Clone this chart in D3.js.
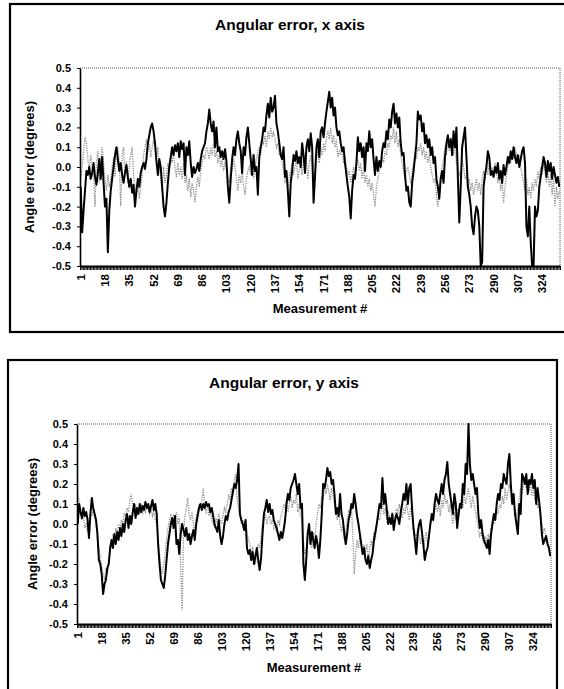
<!DOCTYPE html>
<html>
<head>
<meta charset="utf-8">
<script src="https://cdn.jsdelivr.net/npm/d3@7"></script>
<style>
  body { margin: 0; background: #fff; }
  svg { display: block; font-family: Arial, "Liberation Sans", sans-serif; }
</style>
</head>
<body>
<svg id="chart" width="564" height="689"></svg>
<script>

// x axis, dark series
var X_DARK = [
	-0.10,-0.33,-0.22,-0.12,-0.02,-0.04,0.00,-0.06,-0.03,0.02,-0.05,-0.09,-0.03,0.04,-0.06,0.05,-0.08,
	-0.20,-0.16,-0.43,-0.22,-0.12,-0.06,0.00,0.06,0.10,0.04,-0.02,0.02,-0.04,-0.08,-0.03,0.01,-0.05,
	-0.10,-0.06,-0.13,-0.09,-0.20,-0.12,-0.06,-0.10,-0.03,0.00,0.02,-0.01,0.04,0.12,0.16,0.20,0.22,
	0.18,0.12,0.03,-0.04,0.04,0.00,-0.10,-0.20,-0.25,-0.18,-0.08,0.00,0.05,0.10,0.06,0.11,0.08,
	0.12,0.05,0.13,0.09,0.12,-0.04,0.10,0.06,0.13,0.02,-0.05,0.00,-0.03,-0.01,0.02,-0.02,0.04,
	0.08,0.10,0.12,0.18,0.22,0.29,0.22,0.18,0.23,0.10,0.20,0.08,0.10,0.05,0.08,0.04,0.09,
	0.03,-0.10,-0.18,-0.06,0.04,0.10,0.06,0.14,0.18,0.12,0.08,-0.03,0.10,0.06,0.15,0.20,0.12,
	0.04,-0.04,0.06,-0.02,0.00,-0.14,0.05,0.10,0.14,0.20,0.18,0.26,0.32,0.25,0.35,0.28,0.30,
	0.36,0.22,0.18,0.12,0.06,0.04,0.10,-0.05,-0.02,-0.12,-0.25,-0.08,-0.02,0.06,0.03,0.08,0.02,
	0.05,0.00,0.12,0.06,-0.03,0.10,0.14,0.08,0.17,0.10,-0.18,-0.05,0.10,0.14,0.05,0.18,0.20,
	0.15,0.22,0.28,0.33,0.38,0.30,0.35,0.26,0.30,0.20,0.16,0.18,0.12,0.08,0.10,0.02,-0.04,
	-0.10,-0.15,-0.26,-0.12,-0.04,-0.06,0.02,0.15,0.08,0.12,0.05,0.10,-0.02,0.12,0.08,0.18,0.10,
	0.14,0.04,-0.04,0.05,-0.02,0.03,0.00,0.08,0.12,0.10,0.18,0.14,0.24,0.20,0.28,0.32,0.22,
	0.27,0.20,0.25,0.12,0.06,0.07,-0.04,-0.12,-0.10,-0.18,-0.20,-0.08,-0.02,0.05,0.12,0.28,0.24,
	0.26,0.18,0.22,0.12,0.16,0.10,0.14,0.06,0.10,0.02,0.05,-0.06,-0.10,-0.16,-0.06,-0.02,-0.08,
	0.05,0.12,0.16,0.10,0.14,0.06,0.18,0.10,0.20,-0.05,-0.28,-0.10,0.10,0.15,0.20,0.05,-0.10,
	-0.14,-0.20,-0.30,-0.34,-0.25,-0.20,-0.22,-0.30,-0.50,-0.48,-0.10,-0.04,0.00,0.08,0.05,-0.04,-0.02,
	-0.05,0.00,-0.03,0.02,-0.06,-0.02,-0.08,0.01,-0.04,0.00,0.05,0.02,0.08,0.04,0.10,0.05,0.02,
	0.06,0.00,0.04,0.08,0.10,0.02,-0.30,-0.35,-0.20,-0.38,-0.50,-0.50,-0.20,-0.25,-0.22,-0.10,-0.05,
	0.00,0.05,0.02,-0.05,0.03,-0.02,0.02,-0.06,0.00,-0.04,-0.08,-0.05,-0.10
];

// x axis, gray series
var X_GRAY = [
	-0.05,0.00,0.08,0.15,0.12,0.04,-0.02,0.06,0.00,-0.04,-0.20,0.02,0.08,-0.08,0.04,0.10,0.02,
	-0.06,-0.12,-0.04,-0.10,-0.06,0.00,0.05,-0.05,0.08,0.10,0.02,-0.20,0.06,0.10,-0.04,0.03,-0.08,
	0.00,0.06,0.10,-0.04,-0.10,-0.15,-0.08,-0.16,-0.10,-0.04,0.06,0.10,0.14,0.08,0.12,0.05,0.10,
	0.14,0.10,0.04,0.10,0.00,-0.06,-0.12,0.00,-0.08,-0.04,0.02,-0.02,0.05,0.02,0.08,0.00,-0.05,
	0.02,-0.04,0.00,-0.06,0.02,-0.08,-0.04,-0.12,-0.06,-0.15,-0.08,-0.12,-0.18,-0.10,-0.05,-0.10,-0.02,
	0.02,0.06,0.04,0.10,0.08,0.04,0.10,0.06,0.12,0.05,0.08,0.02,0.06,0.00,0.04,-0.02,0.02,
	0.00,-0.05,-0.08,0.00,-0.02,0.04,0.00,-0.06,-0.12,-0.04,-0.08,-0.02,-0.10,-0.14,-0.06,-0.02,0.00,
	-0.04,0.02,-0.06,0.00,0.04,0.08,0.10,0.06,0.14,0.12,0.16,0.10,0.18,0.14,0.20,0.15,0.18,
	0.14,0.10,0.12,0.06,0.08,0.02,-0.02,-0.08,-0.04,-0.10,-0.05,-0.02,0.02,-0.04,0.00,0.04,-0.06,
	-0.02,0.02,-0.04,0.05,0.00,0.03,-0.06,0.02,0.06,0.00,-0.10,-0.04,0.04,0.08,0.02,0.10,0.06,
	0.12,0.08,0.15,0.18,0.14,0.20,0.12,0.16,0.10,0.14,0.05,0.08,0.06,0.10,0.02,0.05,0.00,
	-0.04,-0.02,-0.08,-0.04,0.00,-0.06,0.02,0.04,-0.02,0.02,-0.06,0.00,-0.08,-0.04,-0.10,-0.06,-0.12,
	-0.08,-0.14,-0.20,-0.10,-0.06,-0.02,0.00,0.04,0.02,0.08,0.06,0.12,0.10,0.16,0.14,0.20,0.12,
	0.18,0.10,0.14,0.06,0.02,-0.02,-0.06,-0.02,0.00,-0.04,-0.08,-0.02,0.02,0.06,0.04,0.10,0.08,
	0.12,0.06,0.10,0.04,0.08,0.02,0.06,0.00,-0.04,-0.08,-0.06,-0.14,-0.20,-0.10,-0.04,0.00,0.04,
	0.10,0.06,0.12,0.08,0.15,0.10,0.06,0.12,0.02,0.00,-0.04,-0.02,0.04,0.00,-0.06,-0.04,-0.10,
	-0.06,-0.12,-0.08,-0.14,-0.10,-0.06,-0.12,-0.08,-0.14,-0.06,-0.02,-0.06,0.00,-0.04,0.02,-0.02,0.00,
	-0.04,0.02,-0.02,-0.08,-0.04,-0.12,-0.06,-0.18,-0.10,-0.04,0.00,0.04,0.02,0.08,0.04,0.10,0.06,
	0.02,0.06,0.00,-0.04,-0.08,-0.12,-0.06,-0.14,-0.10,-0.16,-0.08,-0.12,-0.06,-0.10,-0.02,-0.06,0.00,
	-0.04,0.02,-0.02,-0.08,-0.02,-0.10,-0.04,-0.14,-0.06,-0.20,-0.10,-0.16,-0.12
];

// y axis, dark series
var Y_DARK = [
	0.00,0.10,0.06,0.03,0.08,0.04,0.06,0.02,-0.07,0.05,0.13,0.08,0.05,0.02,-0.05,-0.18,-0.20,
	-0.25,-0.35,-0.30,-0.28,-0.22,-0.20,-0.12,-0.08,-0.12,-0.05,-0.10,-0.04,-0.08,-0.02,-0.06,0.00,-0.04,
	0.02,0.05,-0.02,0.04,0.00,0.06,0.10,0.03,0.08,0.05,0.10,0.06,0.09,0.07,0.11,0.08,0.10,
	0.06,0.09,0.12,0.07,0.10,0.05,-0.10,-0.20,-0.28,-0.30,-0.32,-0.26,-0.18,-0.10,-0.05,0.00,0.03,
	-0.02,0.04,-0.10,-0.08,-0.15,-0.05,0.00,-0.03,-0.06,-0.02,-0.08,-0.05,-0.10,-0.06,-0.03,-0.08,0.00,
	0.04,0.08,0.10,0.07,0.10,0.08,0.11,0.09,0.10,0.06,0.08,0.04,0.00,-0.02,-0.04,0.02,-0.06,
	-0.10,-0.06,0.00,0.04,0.02,0.06,0.08,0.12,0.16,0.20,0.18,0.22,0.30,0.05,0.02,0.00,-0.03,
	0.02,-0.12,-0.15,-0.13,-0.18,-0.14,-0.20,-0.16,-0.12,-0.18,-0.23,-0.17,-0.05,0.05,0.08,0.12,0.06,
	0.10,0.05,0.07,0.02,0.00,-0.02,-0.05,-0.08,-0.04,-0.07,-0.03,0.02,0.10,0.15,0.12,0.18,0.20,
	0.22,0.25,0.20,0.15,0.20,0.08,0.10,-0.20,-0.28,-0.18,-0.05,0.00,-0.10,-0.04,-0.08,-0.12,-0.06,
	-0.10,-0.17,-0.08,0.05,0.20,0.18,0.22,0.28,0.24,0.26,0.20,0.22,0.15,0.05,0.08,0.04,0.15,
	0.05,0.02,-0.05,-0.10,-0.05,0.02,0.05,0.10,0.08,0.15,0.10,0.04,0.00,-0.05,-0.10,-0.15,-0.12,
	-0.18,-0.20,-0.16,-0.22,-0.18,-0.15,-0.08,-0.04,0.00,0.05,0.10,0.08,0.23,0.10,0.15,0.08,0.00,
	0.03,0.00,0.05,-0.03,0.02,0.05,0.03,0.00,0.06,0.10,0.15,0.12,0.20,0.10,0.18,0.20,0.08,
	-0.02,-0.08,-0.15,-0.05,0.00,0.02,-0.04,-0.10,-0.18,-0.14,-0.12,-0.06,0.00,0.05,0.02,0.10,0.15,
	0.12,0.10,0.15,0.20,0.15,0.22,0.25,0.31,0.20,0.15,0.10,0.05,0.15,0.10,-0.02,0.05,0.10,
	0.08,0.20,0.15,0.30,0.25,0.50,0.30,0.22,0.25,0.20,0.15,0.18,0.05,-0.02,0.02,-0.05,-0.08,
	-0.10,-0.12,-0.08,-0.15,-0.05,0.00,0.05,0.02,0.10,0.15,0.12,0.20,0.18,0.25,0.22,0.20,0.30,
	0.35,0.20,0.10,0.15,0.05,0.00,-0.05,0.10,0.05,0.25,0.23,0.20,0.25,0.15,0.22,0.20,0.25,
	0.18,0.22,0.10,0.18,0.12,0.05,-0.05,-0.10,-0.08,-0.06,-0.10,-0.12,-0.16
];

// y axis, gray series
var Y_GRAY = [
	0.15,0.12,0.08,0.02,0.05,-0.02,0.00,-0.04,0.02,0.06,0.04,0.08,0.03,0.00,-0.08,-0.12,-0.16,
	-0.22,-0.25,-0.28,-0.22,-0.25,-0.18,-0.14,-0.10,-0.06,-0.08,-0.02,-0.05,0.00,-0.03,0.02,0.00,0.05,
	0.04,0.08,0.06,0.12,0.15,0.10,0.06,0.10,0.04,0.08,0.06,0.10,0.05,0.08,0.06,0.09,0.07,
	0.05,0.08,0.04,0.06,0.02,0.00,-0.08,-0.15,-0.22,-0.25,-0.20,-0.15,-0.08,-0.02,0.02,0.05,0.00,
	0.04,0.02,0.06,0.00,0.03,-0.22,-0.43,-0.05,0.04,0.08,0.13,0.05,0.02,0.06,0.00,-0.04,0.04,
	0.06,0.10,0.08,0.12,0.18,0.08,0.06,0.10,0.04,0.06,0.02,0.00,-0.02,0.03,0.00,0.05,0.02,
	0.00,0.04,0.08,0.06,0.10,0.14,0.12,0.18,0.15,0.22,0.25,0.12,0.08,0.04,0.00,0.02,-0.02,
	0.00,-0.04,-0.08,-0.10,-0.14,-0.12,-0.16,-0.20,-0.15,-0.10,-0.12,-0.06,0.00,0.02,0.05,0.00,0.03,
	0.04,0.00,0.02,-0.02,0.00,-0.04,0.02,0.00,0.04,0.06,0.10,0.08,0.12,0.06,0.10,0.14,0.08,
	0.12,0.10,0.15,0.06,0.10,0.04,0.02,-0.08,-0.15,-0.12,-0.05,0.00,-0.06,-0.12,-0.04,-0.08,0.00,
	0.05,0.10,0.08,0.14,0.12,0.18,0.15,0.20,0.16,0.12,0.18,0.14,0.10,0.06,0.02,0.06,0.00,
	-0.04,0.00,-0.08,-0.04,0.02,0.06,0.04,0.08,-0.05,-0.25,-0.15,-0.08,-0.12,-0.06,-0.10,-0.15,-0.10,
	-0.14,-0.10,-0.18,-0.12,-0.08,-0.12,-0.04,-0.08,0.00,0.04,0.02,0.06,0.10,0.05,0.08,0.02,0.06,
	0.04,0.00,0.06,0.02,0.04,0.08,0.05,0.10,0.06,0.03,0.08,0.05,0.10,0.06,0.02,0.08,0.04,
	0.00,-0.04,-0.08,-0.02,-0.06,-0.10,-0.05,-0.12,-0.08,-0.04,-0.10,-0.06,0.00,0.04,0.02,0.06,0.10,
	0.06,0.10,0.04,0.12,0.08,0.15,0.10,0.12,0.06,0.10,0.04,0.00,0.06,0.02,0.08,0.04,0.10,
	0.12,0.08,0.15,0.10,0.14,0.18,0.12,0.08,0.14,0.10,0.06,0.02,-0.02,-0.06,-0.04,-0.08,-0.10,
	-0.06,-0.10,-0.05,-0.08,-0.02,0.02,0.00,0.04,0.08,0.05,0.10,0.08,0.14,0.10,0.18,0.12,0.16,
	0.20,0.15,0.10,0.12,0.06,0.04,0.08,0.12,0.18,0.15,0.20,0.24,0.18,0.22,0.16,0.20,0.14,
	0.18,0.12,0.15,0.08,0.10,0.04,0.00,-0.04,-0.02,-0.06,-0.08,-0.12,-0.10
];

var Y_TICKS = [0.5, 0.4, 0.3, 0.2, 0.1, 0.0, -0.1, -0.2, -0.3, -0.4, -0.5];
var X_LABELS = [1, 18, 35, 52, 69, 86, 103, 120, 137, 154, 171, 188, 205, 222, 239, 256, 273, 290, 307, 324];

var svg = d3.select("#chart");

function drawChart(opts) {
	var g = svg.append("g");
	var p = opts.plot;
	var n = opts.dark.length;

	// outer frame of the chart object
	g.append("rect")
		.attr("x", opts.box[0])
		.attr("y", opts.box[1])
		.attr("width", opts.box[2] - opts.box[0])
		.attr("height", opts.box[3] - opts.box[1])
		.attr("fill", "none")
		.attr("stroke", "#000")
		.attr("stroke-width", 2.2);

	g.append("text")
		.attr("x", opts.titlePos[0])
		.attr("y", opts.titlePos[1])
		.attr("text-anchor", "middle")
		.attr("font-size", "15.5px")
		.attr("font-weight", "bold")
		.text(opts.title);

	var x = d3.scaleLinear().domain([0.5, n + 0.5]).range([p.left, p.right]);
	var y = d3.scaleLinear().domain([-0.5, 0.5]).range([p.bottom, p.top]);

	// dotted plot area border (top and right)
	g.append("path")
		.attr("d", "M" + p.left + "," + p.top + "H" + p.right + "V" + p.bottom)
		.attr("fill", "none")
		.attr("stroke", "#555")
		.attr("stroke-dasharray", "1,1");

	var clipId = "clip" + opts.id;
	g.append("clipPath").attr("id", clipId)
		.append("rect")
		.attr("x", p.left).attr("y", p.top - 1)
		.attr("width", p.right - p.left).attr("height", p.bottom - p.top + 2);

	var line = d3.line()
		.x(function(d, i) { return x(i + 1); })
		.y(function(d) { return y(d); });

	g.append("path")
		.datum(opts.gray)
		.attr("clip-path", "url(#" + clipId + ")")
		.attr("d", line)
		.attr("fill", "none")
		.attr("stroke", "#8c8c8c")
		.attr("stroke-width", 1.3)
		.attr("stroke-dasharray", "1.2,1.2");

	g.append("path")
		.datum(opts.dark)
		.attr("clip-path", "url(#" + clipId + ")")
		.attr("d", line)
		.attr("fill", "none")
		.attr("stroke", "#000")
		.attr("stroke-width", 2)
		.attr("stroke-linejoin", "round");

	// value axis
	var yAxis = d3.axisLeft(y)
		.tickValues(Y_TICKS)
		.tickSize(3)
		.tickSizeOuter(0)
		.tickPadding(6)
		.tickFormat(function(d) { return d.toFixed(1); });

	var ya = g.append("g")
		.attr("transform", "translate(" + p.left + ",0)")
		.call(yAxis);
	ya.select(".domain").attr("stroke-width", 1.6);
	ya.selectAll("text")
		.attr("font-size", "11px")
		.attr("font-weight", "bold")
		.attr("font-family", "Arial, 'Liberation Sans', sans-serif")
		.attr("fill", "#000");

	// category axis: one tick between every measurement
	var xAxis = d3.axisBottom(x)
		.tickValues(d3.range(0.5, n + 1, 1))
		.tickSize(4)
		.tickSizeOuter(0)
		.tickFormat("");

	var xa = g.append("g")
		.attr("transform", "translate(0," + p.bottom + ")")
		.call(xAxis);
	xa.select(".domain").attr("stroke-width", 2);

	// rotated category labels, every 17th measurement
	g.selectAll(".xlab")
		.data(X_LABELS)
		.enter()
		.append("text")
		.attr("class", "xlab")
		.attr("transform", function(d) { return "translate(" + x(d) + "," + (p.bottom + 8) + ") rotate(-90)"; })
		.attr("text-anchor", "end")
		.attr("dy", "0.35em")
		.attr("font-size", "11.5px")
		.attr("font-weight", "bold")
		.text(function(d) { return d; });

	g.append("text")
		.attr("x", (p.left + p.right) / 2)
		.attr("y", opts.xTitleY)
		.attr("text-anchor", "middle")
		.attr("font-size", "13px")
		.attr("font-weight", "bold")
		.text("Measurement #");

	g.append("text")
		.attr("transform", "translate(" + opts.yTitleX + "," + ((p.top + p.bottom) / 2) + ") rotate(-90)")
		.attr("text-anchor", "middle")
		.attr("dy", "0.35em")
		.attr("font-size", "13px")
		.attr("font-weight", "bold")
		.text("Angle error (degrees)");
}

drawChart({
	id: 1,
	title: "Angular error, x axis",
	box: [10, 4, 575, 332],
	titlePos: [290, 30],
	plot: { left: 80, top: 68, right: 560, bottom: 266 },
	xTitleY: 313,
	yTitleX: 29,
	dark: X_DARK,
	gray: X_GRAY
});

drawChart({
	id: 2,
	title: "Angular error, y axis",
	box: [8, 360, 557, 700],
	titlePos: [284, 388],
	plot: { left: 77, top: 424, right: 551, bottom: 624 },
	xTitleY: 672,
	yTitleX: 32,
	dark: Y_DARK,
	gray: Y_GRAY
});
</script>
</body>
</html>
